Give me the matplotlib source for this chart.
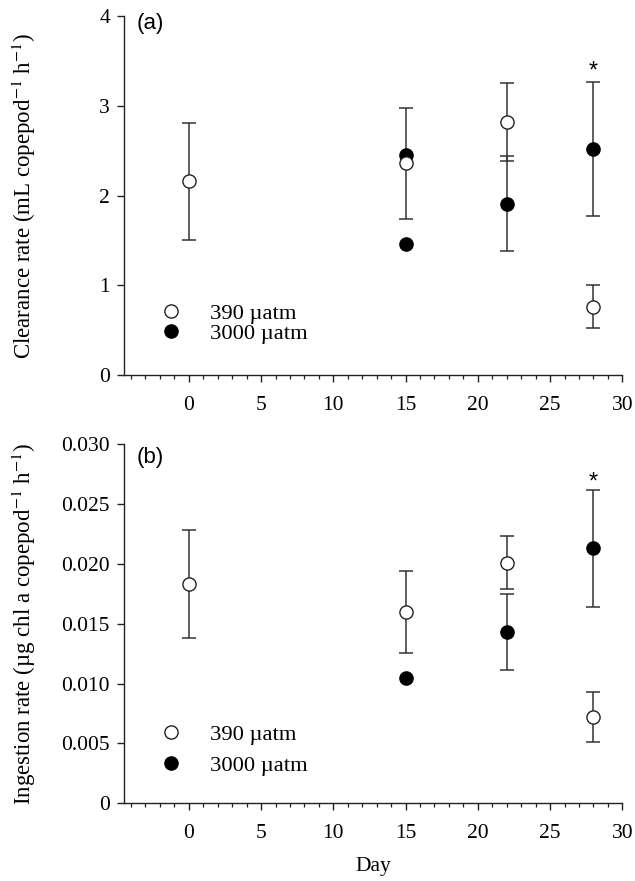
import matplotlib
matplotlib.use("Agg")
import matplotlib.pyplot as plt
from matplotlib.ticker import MultipleLocator
import numpy as np

# values
days_390 = [0, 15, 22, 28]
days_3000 = [15, 15, 22, 28]
clear_390 = [2.16, 2.36, 2.82, 0.76]
clear_390_err = [0.65, 0.62, 0.43, 0.24]
clear_3000 = [2.45, 1.46, 1.91, 2.52]
clear_3000_err = [np.nan, np.nan, 0.53, 0.75]

days_ing_3000 = [15, 22, 28]
ing_390 = [0.0183, 0.0160, 0.0201, 0.0072]
ing_390_err = [0.0045, 0.0034, 0.0022, 0.0021]
ing_3000 = [0.0105, 0.0143, 0.0213]
ing_3000_err = [np.nan, 0.0032, 0.0049]

labels = ["390 \u00b5atm", "3000 \u00b5atm"]

plt.rcParams['font.family'] = ['Liberation Serif', 'DejaVu Serif']
plt.rcParams['mathtext.fontset'] = 'stix'

ecol = '#333333'
fs = 15.5


def panel(ax, x1, y1, e1, x2, y2, e2, star_y, tag, tag_y, leg_y, leg_space):
    ax.errorbar(x2, y2, yerr=e2, fmt='none', ecolor=ecol, elinewidth=1.1,
                capsize=5, capthick=1.1, zorder=1)
    ax.errorbar(x1, y1, yerr=e1, fmt='none', ecolor=ecol, elinewidth=1.1,
                capsize=5, capthick=1.1, zorder=1)
    h2, = ax.plot(x2, y2, 'o', ms=9.5, mfc='black', mec='black', mew=1.0,
                  ls='none', zorder=3)
    h1, = ax.plot(x1, y1, 'o', ms=9.5, mfc='white', mec='#222222', mew=1.0,
                  ls='none', zorder=4)
    ax.text(28, star_y, '*', ha='center', va='center', fontsize=17,
            family='Liberation Sans')
    ax.text(0.026, tag_y, tag, transform=ax.transAxes, ha='left', va='center',
            fontsize=16, family='Liberation Sans')
    ax.legend([h1, h2], labels, loc='center left', bbox_to_anchor=(0.072, leg_y),
              frameon=False, fontsize=16.2, handlelength=1.0, handletextpad=1.25,
              borderpad=0, borderaxespad=0, labelspacing=leg_space)
    ax.set_xlim(-4.5, 30)
    ax.xaxis.set_major_locator(MultipleLocator(5))
    ax.xaxis.set_minor_locator(MultipleLocator(1))
    ax.spines['top'].set_visible(False)
    ax.spines['right'].set_visible(False)
    for s in ['left', 'bottom']:
        ax.spines[s].set_color('#222222')
        ax.spines[s].set_linewidth(1.0)
    ax.tick_params(which='major', direction='out', length=5, width=1.0,
                   labelsize=fs, colors='#222222', labelcolor='black')
    ax.tick_params(axis='x', which='major', pad=10)
    ax.tick_params(axis='y', which='major', pad=5)
    ax.tick_params(which='minor', direction='out', length=3, width=0.9,
                   colors='#222222')
    ax.tick_params(axis='y', which='minor', left=False)
    ax.yaxis.set_label_coords(-0.172, 0.5)


fig = plt.figure(figsize=(6.35, 8.81), dpi=100)
ax1 = fig.add_axes([0.195, 0.5743, 0.785, 0.4075])
ax2 = fig.add_axes([0.195, 0.0882, 0.785, 0.4075])

panel(ax1, days_390, clear_390, clear_390_err, days_3000, clear_3000,
      clear_3000_err, 3.38, '(a)', 0.98, 0.143, -0.05)
ax1.set_ylim(0, 4)
ax1.yaxis.set_major_locator(MultipleLocator(1))
ax1.set_ylabel("Clearance rate (mL copepod$^{-1}$ h$^{-1}$)", fontsize=16.5)

panel(ax2, days_390, ing_390, ing_390_err, days_ing_3000, ing_3000,
      ing_3000_err, 0.0268, '(b)', 0.962, 0.148, 0.45)
ax2.set_ylim(0, 0.030)
ax2.set_yticks(np.arange(0, 0.0301, 0.005))
ax2.set_yticklabels(['0', '0.005', '0.010', '0.015', '0.020', '0.025', '0.030'])
ax2.set_ylabel("Ingestion rate (\u00b5g chl a copepod$^{-1}$ h$^{-1}$)",
               fontsize=16.5)
ax2.set_xlabel("Day", fontsize=fs, labelpad=10)

fig.savefig("out.png", dpi=100)
